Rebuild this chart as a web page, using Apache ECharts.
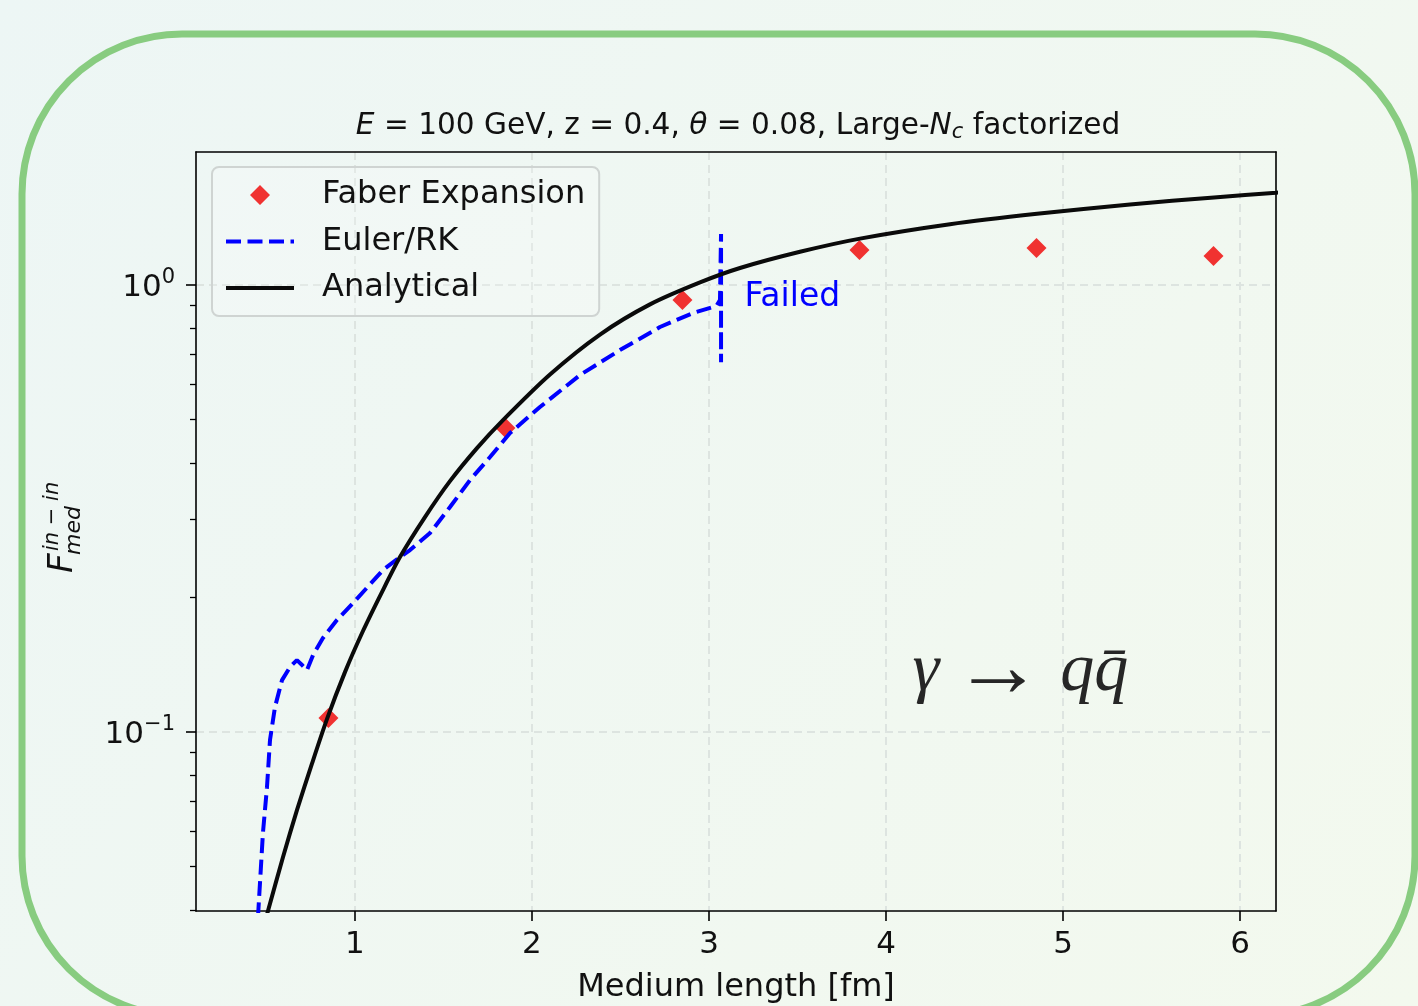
<!DOCTYPE html>
<html><head><meta charset="utf-8">
<script src="https://cdn.jsdelivr.net/npm/echarts@6/dist/echarts.min.js"></script>
<style>html,body{margin:0;padding:0;background:#eff7f3;} #chart{width:1418px;height:1006px;}</style>
</head><body><div id="chart"></div>
<script>
// ---------- data ----------
const xTicks = [1, 2, 3, 4, 5, 6];
const yMajorTicks = [0.1, 1];
const yMinorTicks = [0.04, 0.05, 0.06, 0.07, 0.08, 0.09, 0.2, 0.3, 0.4, 0.5, 0.6, 0.7, 0.8, 0.9];

const faberX = [0.85, 1.85, 2.85, 3.85, 4.85, 5.85];
const faberY = [0.1075, 0.479, 0.926, 1.198, 1.21, 1.161];

const analyticalX = [0.498, 0.5085, 0.5932, 0.6723, 0.7571, 0.8418, 0.9435, 1.0452, 1.1525, 1.2542, 1.3955, 1.5367, 1.6893, 1.8362, 2.1017, 2.3842, 2.6667, 2.9492, 3.1751, 3.5141, 3.8531, 4.3616, 4.8531, 5.3785, 5.8531, 6.2034, 6.22];
const analyticalY = [0.0384, 0.0398, 0.0525, 0.0669, 0.0850, 0.1069, 0.1362, 0.1683, 0.2057, 0.2463, 0.3027, 0.3642, 0.4318, 0.4989, 0.6310, 0.7750, 0.9051, 1.0135, 1.0916, 1.1866, 1.2700, 1.3677, 1.4431, 1.5140, 1.5703, 1.6083, 1.611];

const eulerX = [0.452, 0.480, 0.503, 0.520, 0.548, 0.588, 0.633, 0.672, 0.701, 0.729, 0.763, 0.819, 0.898, 0.989, 1.158, 1.254, 1.311, 1.424, 1.537, 1.650, 1.763, 1.876, 2.045, 2.271, 2.497, 2.723, 2.910, 3.023, 3.045, 3.062, 3.068, 3.068, 3.068];
const eulerY = [0.0385, 0.0594, 0.0753, 0.0960, 0.1137, 0.1307, 0.1398, 0.1449, 0.1413, 0.1376, 0.1487, 0.1623, 0.1781, 0.1943, 0.2304, 0.2463, 0.2554, 0.2788, 0.3187, 0.3663, 0.4123, 0.4667, 0.5335, 0.6290, 0.7153, 0.8055, 0.8658, 0.8929, 0.902, 0.926, 1.30, 0.672, 0.90];

const seriesNames = ['Faber Expansion', 'Euler/RK', 'Analytical'];
const failedText = 'Failed';
const failedAt = [3.2, 0.936];
const processAt = [4.15, 0.136];

const xRange = [0.102, 6.203];
const yRange = [0.0398, 1.984];

// ---------- chart ----------
const FONT = '"DejaVu Sans", sans-serif';
const zip = (xs, ys) => xs.map((x, i) => [x, ys[i]]);
const gridLine = { show: true, lineStyle: { color: '#dde4e0', width: 2, type: [8, 5] } };
const spine = { show: true, lineStyle: { color: '#000', width: 1.6 } };
const BLUE = '#0000ff', RED = '#f00000', BLACK = '#0a0a0a';
const eulerDash = [15, 6.5];

const chart = echarts.init(document.getElementById('chart'), null, { renderer: 'canvas' });
chart.setOption({
  animation: false,
  backgroundColor: { type: 'linear', x: 0, y: 0, x2: 1, y2: 1,
    colorStops: [{ offset: 0, color: '#edf6f5' }, { offset: 1, color: '#f3f9ee' }] },
  title: {
    text: '{i|E} = 100 GeV, z = 0.4, {i|θ} = 0.08, Large-{i|N}{sub|c} factorized',
    left: 733, top: 104, textAlign: 'center',
    textStyle: { fontFamily: FONT, fontSize: 29.6, fontWeight: 'normal', color: '#111', lineHeight: 34,
      rich: {
        i: { fontFamily: FONT, fontSize: 29.6, fontStyle: 'italic', color: '#111', lineHeight: 34 },
        sub: { fontFamily: FONT, fontSize: 21, fontStyle: 'italic', color: '#111', lineHeight: 21, verticalAlign: 'bottom' }
      } }
  },
  grid: { left: 196, right: 142, top: 152, bottom: 95, containLabel: false, outerBoundsMode: 'none' },
  legend: {
    left: 212, top: 167, orient: 'vertical', align: 'left',
    padding: [10, 14, 10, 12], itemWidth: 68, itemHeight: 20, itemGap: 10.5,
    backgroundColor: 'rgba(255,255,255,0.2)', borderColor: '#cfd4d2', borderWidth: 2, borderRadius: 7,
    selectedMode: false,
    textStyle: { fontFamily: FONT, fontSize: 32, color: '#111', lineHeight: 36, padding: [0, 0, 0, 23] },
    data: [
      { name: seriesNames[0], icon: 'path://M0,0L0.001,0L0,0.001Z M68,20L67.999,20L68,19.999Z M24,10L34,0L44,10L34,20Z',
        itemStyle: { color: RED } },
      { name: seriesNames[1], itemStyle: { opacity: 0 }, lineStyle: { color: BLUE, width: 4, type: eulerDash } },
      { name: seriesNames[2], itemStyle: { opacity: 0 }, lineStyle: { color: BLACK, width: 4, type: 'solid' } }
    ]
  },
  xAxis: [
    { type: 'value', min: xRange[0], max: xRange[1], position: 'bottom',
      axisLine: spine,
      axisTick: { show: true, customValues: xTicks, length: 10, lineStyle: { color: '#000', width: 1.6 } },
      axisLabel: { customValues: xTicks, margin: 18, fontFamily: FONT, fontSize: 31, color: '#111' },
      splitLine: gridLine,
      name: 'Medium length [fm]', nameLocation: 'middle', nameGap: 61,
      nameTextStyle: { fontFamily: FONT, fontSize: 32, color: '#111' } },
    { type: 'value', min: xRange[0], max: xRange[1], position: 'top',
      axisLine: spine, axisTick: { show: false }, axisLabel: { show: false }, splitLine: { show: false } }
  ],
  yAxis: [
    { type: 'log', logBase: 10, min: yRange[0], max: yRange[1], position: 'left',
      axisLine: spine,
      axisTick: { show: true, customValues: yMajorTicks, length: 10, lineStyle: { color: '#000', width: 1.6 } },
      axisLabel: { customValues: yMajorTicks, margin: 21,
        formatter: v => (Math.abs(v - 1) < 1e-6 ? '{b|10}{s|0}' : '{b|10}{s|−1}'),
        rich: {
          b: { fontFamily: FONT, fontSize: 31, color: '#111', lineHeight: 36, verticalAlign: 'bottom' },
          s: { fontFamily: FONT, fontSize: 21, color: '#111', lineHeight: 23, verticalAlign: 'top' }
        } },
      splitLine: gridLine },
    { type: 'log', logBase: 10, min: yRange[0], max: yRange[1], position: 'left',
      axisLine: { show: false },
      axisTick: { show: true, customValues: yMinorTicks, length: 6, lineStyle: { color: '#000', width: 1.3 } },
      axisLabel: { show: false }, splitLine: { show: false } },
    { type: 'log', logBase: 10, min: yRange[0], max: yRange[1], position: 'right',
      axisLine: spine, axisTick: { show: false }, axisLabel: { show: false }, splitLine: { show: false } }
  ],
  series: [
    { name: seriesNames[0], type: 'scatter', xAxisIndex: 0, yAxisIndex: 0,
      symbol: 'diamond', symbolSize: 20, itemStyle: { color: RED },
      data: zip(faberX, faberY) },
    { name: seriesNames[1], type: 'line', xAxisIndex: 0, yAxisIndex: 0,
      symbol: 'none', clip: true,
      lineStyle: { color: BLUE, width: 4, type: eulerDash }, itemStyle: { color: BLUE },
      data: zip(eulerX, eulerY),
      markPoint: { silent: true, symbol: 'circle', symbolSize: 0,
        data: [{ coord: failedAt, label: { show: true, position: 'right', distance: 0, formatter: failedText,
          fontFamily: FONT, fontSize: 33, color: BLUE } }] } },
    { name: seriesNames[2], type: 'line', xAxisIndex: 0, yAxisIndex: 0,
      symbol: 'none', clip: true, smooth: 0.25,
      lineStyle: { color: BLACK, width: 4 }, itemStyle: { color: BLACK },
      data: zip(analyticalX, analyticalY),
      markPoint: { silent: true, symbol: 'circle', symbolSize: 0,
        data: [{ coord: processAt, label: { show: true, position: 'right', distance: 0,
          formatter: '{g|γ}{a|→}{g|qq\u0304}',
          rich: {
            g: { fontFamily: '"Liberation Serif", serif', fontStyle: 'italic', fontSize: 68, color: '#262626' },
            a: { fontFamily: '"Liberation Serif", serif', fontSize: 90, color: '#262626', padding: [0, 17, 0, 14] }
          } } }] } }
  ],
  graphic: [
    { type: 'rect', silent: true, z: 100,
      shape: { x: 22, y: 34, width: 1393, height: 982, r: 160 },
      style: { fill: 'none', stroke: '#88cc80', lineWidth: 7 } },
    { type: 'group', x: 75, y: 573, rotation: Math.PI / 2, silent: true, children: [
      { type: 'text', x: 0, y: -12, style: { text: 'F', fontFamily: FONT, fontStyle: 'italic', fontSize: 34, fill: '#111', align: 'left', verticalAlign: 'middle' } },
      { type: 'text', x: 22, y: -22, style: { text: 'in − in', fontFamily: FONT, fontStyle: 'italic', fontSize: 21, fill: '#111', align: 'left', verticalAlign: 'middle' } },
      { type: 'text', x: 18, y: -1, style: { text: 'med', fontFamily: FONT, fontStyle: 'italic', fontSize: 22, fill: '#111', align: 'left', verticalAlign: 'middle' } }
    ] }
  ]
});
</script></body></html>
